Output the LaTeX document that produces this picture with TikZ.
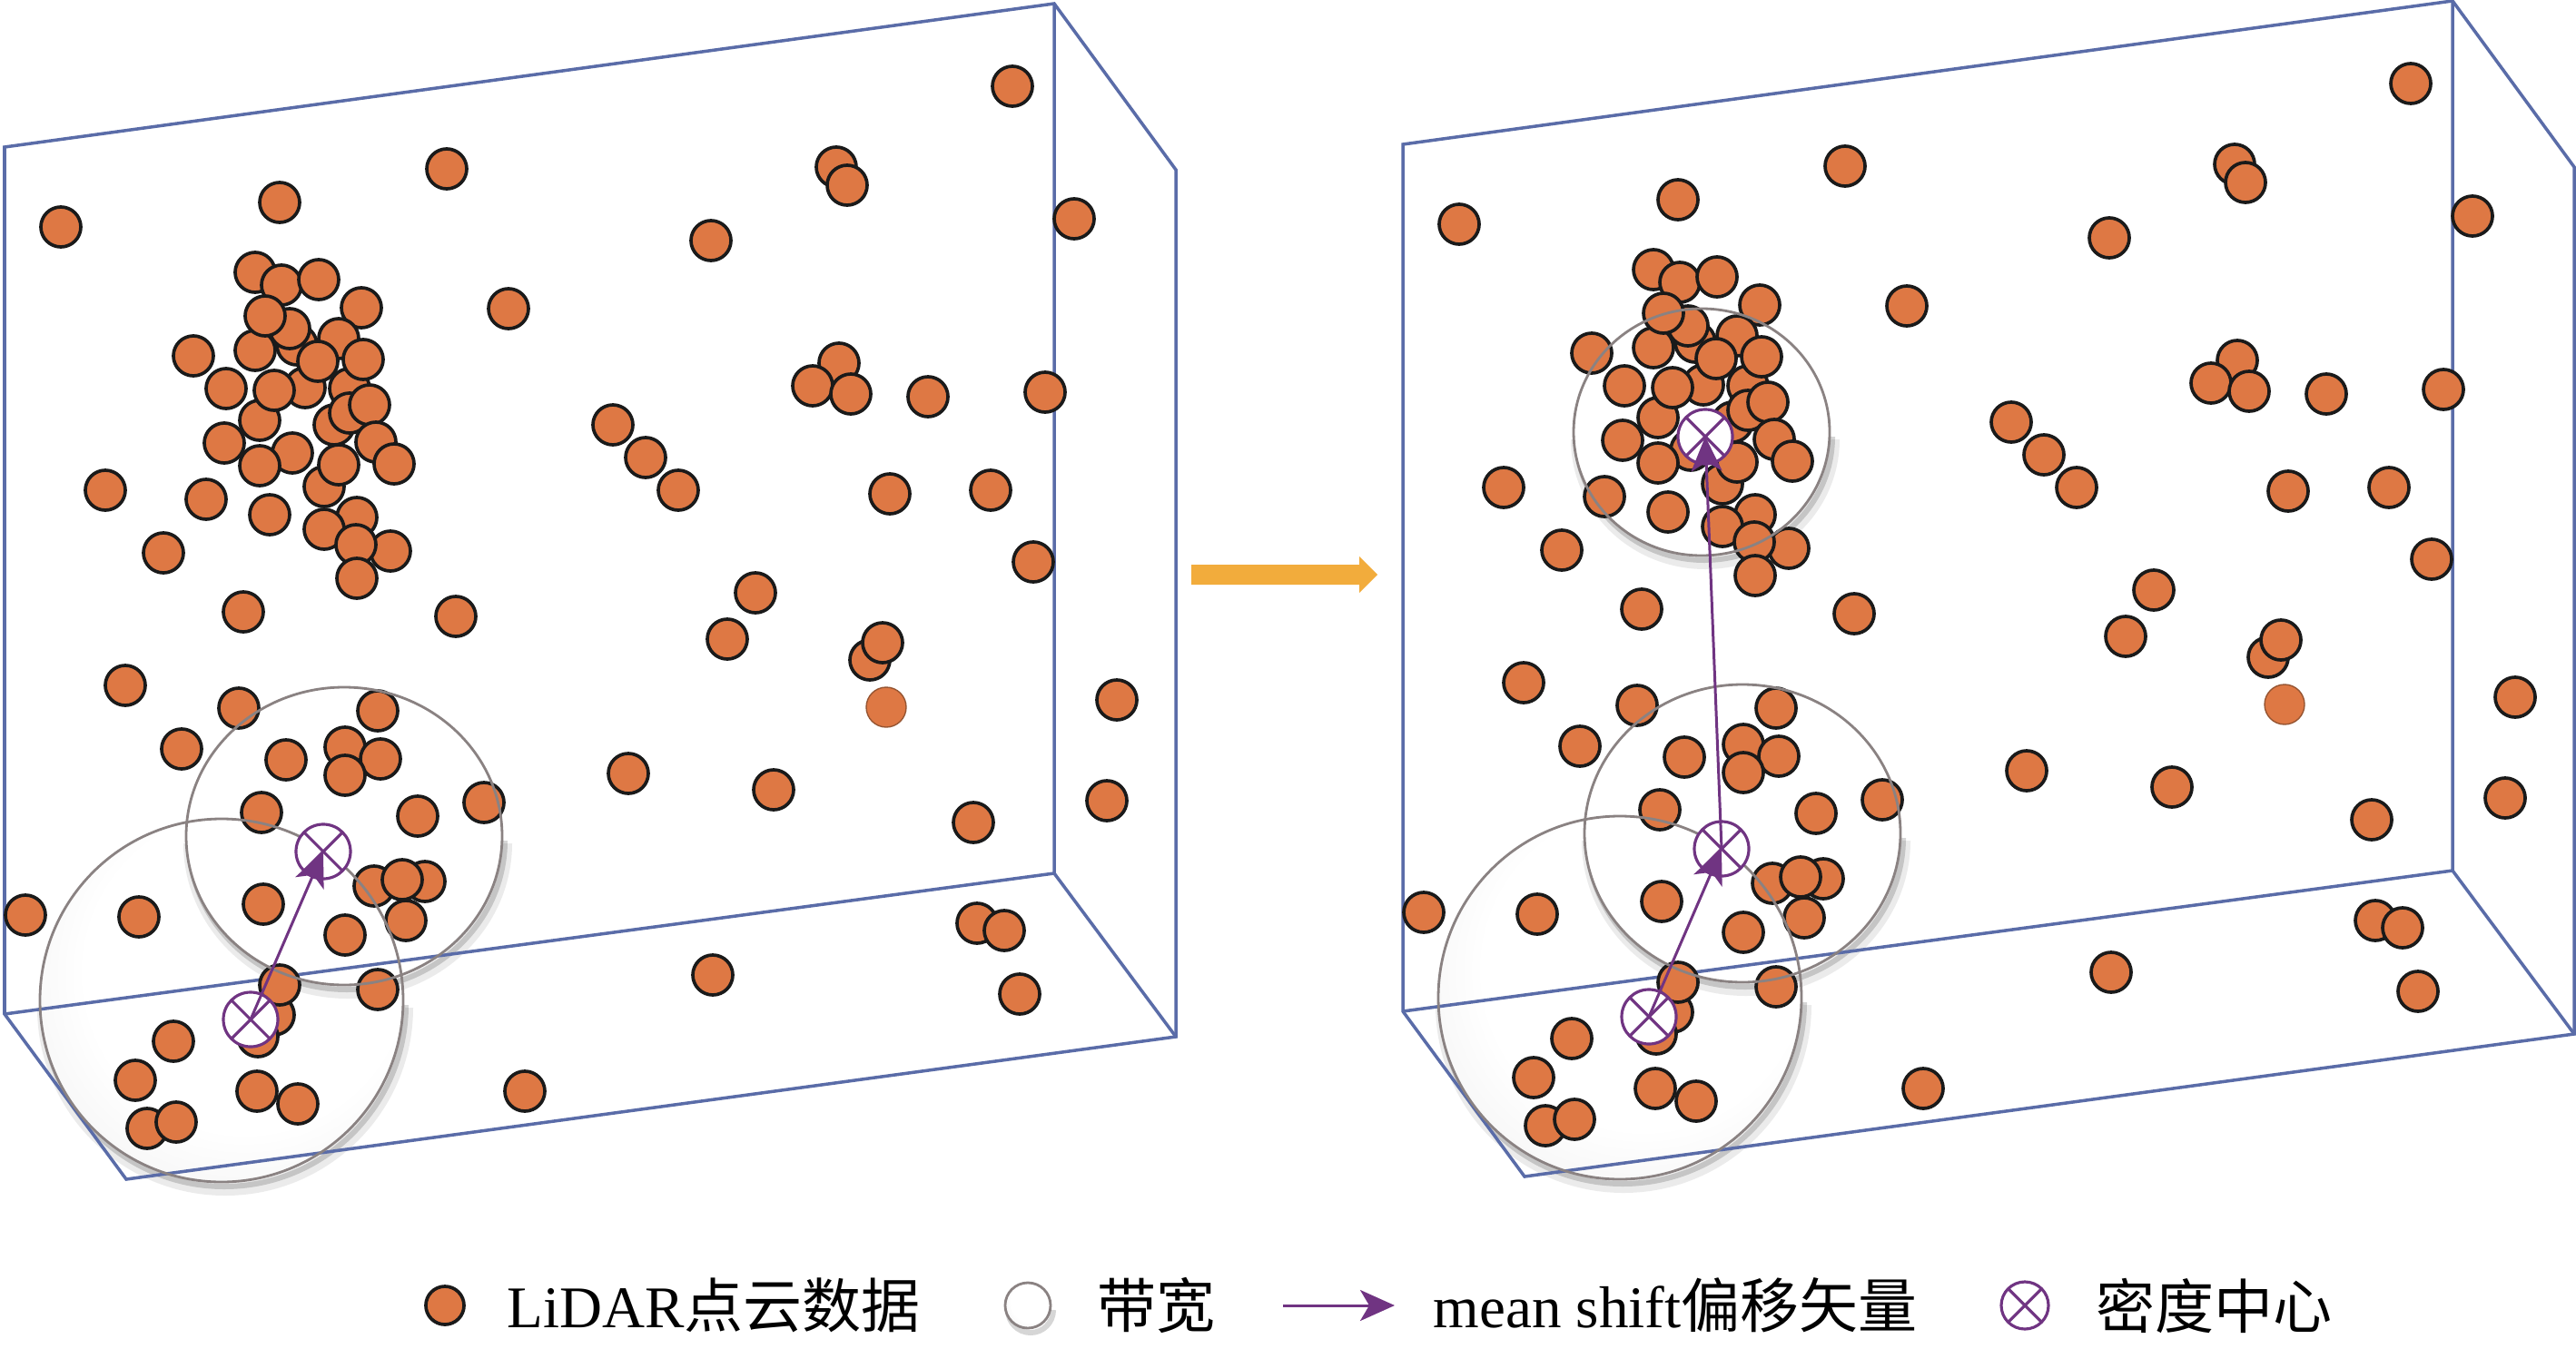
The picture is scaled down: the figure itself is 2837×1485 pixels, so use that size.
\documentclass[tikz,border=0pt]{standalone}
\usepackage{fontspec}
\setmainfont{Liberation Serif}
\newfontfamily\cjkfont{Noto Sans CJK SC}
\usepackage{tikz}
\usetikzlibrary{arrows.meta, positioning}
\definecolor{lidarorange}{RGB}{222,120,68}
\definecolor{dotedge}{RGB}{26,26,26}
\definecolor{boxblue}{RGB}{90,108,168}
\definecolor{shiftpurple}{RGB}{112,52,130}
\definecolor{steporange}{RGB}{242,172,60}
\definecolor{rimgray}{RGB}{138,130,130}
\definecolor{fadededge}{RGB}{150,85,50}

\pgfdeclareradialshading{glass}{\pgfpoint{5bp}{6bp}}{color(0bp)=(white); color(22bp)=(white); color(40bp)=(black!7); color(50bp)=(black!26); color(62bp)=(black!30)}
\pgfdeclareradialshading{glasslight}{\pgfpoint{4bp}{5bp}}{color(0bp)=(white); color(30bp)=(white); color(45bp)=(black!5); color(50bp)=(black!13); color(62bp)=(black!15)}

% scattered points, pixel coordinates (y downwards)
\newcommand\lidarpoints{67/250, 308/223, 492/186, 560/340, 116/540, 180/609, 268/674, 502/679,
  1115/95, 921/184, 933/204, 783/265, 1183/241,
  924/400, 895/425, 937/434, 1022/437, 1151/432,
  675/468, 711/504, 747/540, 980/544, 1091/540, 1138/619, 832/653,
  801/704, 958/727, 972/708, 1230/771, 692/852, 852/870, 1072/906, 1219/882,
  1076/1017, 1106/1025, 1123/1095, 785/1074, 578/1202,
  138/755, 263/780, 200/825, 416/783, 315/837, 380/823, 419/836, 380/854,
  288/895, 460/899, 533/884, 412/976, 468/971, 443/969, 447/1014, 290/996, 380/1030,
  28/1008, 153/1010, 302/1118, 284/1142, 308/1085, 416/1090, 191/1147, 149/1190,
  283/1202, 328/1216, 162/1243, 194/1236}
% dense cluster, back to front
\newcommand\clusterpoints{327/380, 336/427, 385/428, 281/300, 310/314, 351/308, 398/339,
  319/362, 281/386, 292/348, 373/373, 350/398, 400/396, 213/392, 249/428, 286/463,
  302/430, 368/468, 385/455, 407/446, 414/487, 322/499, 286/513, 247/488, 357/536,
  373/512, 434/511, 227/550, 297/567, 393/570, 357/583, 430/607, 392/600, 393/637}

% bandwidth bubble: #1,#2 centre, #3,#4 radii, #5 shading
\newcommand\bubblefill[5]{%
  \draw[black, opacity=0.08, line width=0.14cm] ({#1+4},{#2+8}) ++(0:#3 and #4)
    arc[start angle=0, end angle=180, x radius=#3, y radius=#4];
  \draw[black, opacity=0.16, line width=0.06cm] ({#1+3},{#2+5}) ++(0:#3 and #4)
    arc[start angle=0, end angle=180, x radius=#3, y radius=#4];
  \shade[shading=#5] (#1,#2) ellipse [x radius=#3, y radius=#4];}
\newcommand\bubblerim[4]{\draw[rim] (#1,#2) ellipse [x radius=#3, y radius=#4];}

\begin{document}
\begin{tikzpicture}[x=0.01cm, y=-0.01cm,
  lidar/.style={fill=lidarorange, draw=dotedge, line width=1.05pt},
  fadedpt/.style={fill=lidarorange, draw=fadededge, line width=0.4pt},
  boxline/.style={draw=boxblue, line width=1pt},
  rim/.style={draw=rimgray, line width=0.8pt},
  density/.style={circle, draw=shiftpurple, fill=white, line width=0.9pt,
    minimum size=0.6cm, inner sep=0pt,
    path picture={\draw[shiftpurple, line width=0.9pt]
      (path picture bounding box.north west) -- (path picture bounding box.south east)
      (path picture bounding box.north east) -- (path picture bounding box.south west);}},
  shiftarr/.style={-{Stealth[length=0.38cm, width=0.34cm, inset=0.1cm]}, shiftpurple, line width=0.85pt},
  legtext/.style={font=\fontsize{18.5}{22}\selectfont, inner sep=0pt, anchor=west}
]
\useasboundingbox (0,0) rectangle (2837,1485);

% ---- left box: first shift ----
\begin{scope}
  \bubblefill{244}{1102}{200}{200}{glass}
  \bubblefill{379}{921}{174}{164}{glasslight}
  \draw[boxline] (5,162) -- (1161,4) -- (1295,187) -- (1295,1142) -- (139,1299) -- (5,1117) -- cycle;
  \draw[boxline] (1161,4) -- (1161,962) -- (1295,1142);
  \draw[boxline] (5,1117) -- (1161,962);
  \foreach \px/\py in \lidarpoints {\draw[lidar] (\px,\py) circle (22);}
  \foreach \px/\py in \clusterpoints {\draw[lidar] (\px,\py) circle (22);}
  \draw[fadedpt] (976,779) circle (22);
  \bubblerim{244}{1102}{200}{200}
  \bubblerim{379}{921}{174}{164}
  \node[density] (cL1) at (276,1123) {};
  \node[density] (cL2) at (356,938) {};
  \draw[shiftarr] (cL1.center) -- (cL2.center);
\end{scope}

% step arrow
\fill[steporange] (1312,622) -- (1497,622) -- (1497,613) -- (1517,633) -- (1497,653) -- (1497,644) -- (1312,644) -- cycle;

% ---- right box: shift converges ----
\begin{scope}[shift={(1540,-3)}]
  \bubblefill{244}{1102}{200}{200}{glass}
  \bubblefill{379}{921}{174}{164}{glasslight}
  \bubblefill{334}{479}{141}{136}{glasslight}
  \draw[boxline] (5,162) -- (1161,4) -- (1295,187) -- (1295,1142) -- (139,1299) -- (5,1117) -- cycle;
  \draw[boxline] (1161,4) -- (1161,962) -- (1295,1142);
  \draw[boxline] (5,1117) -- (1161,962);
  \foreach \px/\py in \lidarpoints {\draw[lidar] (\px,\py) circle (22);}
  \foreach \px/\py in \clusterpoints {\draw[lidar] (\px,\py) circle (22);}
  \draw[fadedpt] (976,779) circle (22);
  \bubblerim{244}{1102}{200}{200}
  \bubblerim{379}{921}{174}{164}
  \bubblerim{334}{479}{141}{136}
  \node[density] (cR1) at (276,1123) {};
  \node[density] (cR2) at (356,938) {};
  \node[density] (cR3) at (338,484) {};
  \draw[shiftarr] (cR1.center) -- (cR2.center);
  \draw[shiftarr] (cR2.center) -- (cR3.center);
\end{scope}

% legend
\node[lidar, circle, minimum size=0.42cm, inner sep=0pt] (legdot) at (490,1438) {};
\node[legtext, right=0.45cm of legdot] (legdottxt) {LiDAR{\cjkfont 点云数据}};
\draw[black, opacity=0.16, line width=0.06cm] (1135,1443) ++(0:25 and 25) arc[start angle=0, end angle=180, radius=25];
\node[circle, shade, shading=glass, draw=rimgray, line width=0.8pt, minimum size=0.5cm, inner sep=0pt] (legbub) at (1132,1438) {};
\node[legtext, right=0.49cm of legbub] (legbubtxt) {\cjkfont 带宽};
\coordinate (legtail) at (1413,1438);
\coordinate (leghead) at (1536,1438);
\draw[shiftarr] (legtail) -- (leghead);
\node[legtext, right=0.42cm of leghead] (legarrtxt) {mean shift{\cjkfont 偏移矢量}};
\node[density, minimum size=0.52cm] (legcen) at (2230,1438) {};
\node[legtext, right=0.5cm of legcen] (legcentxt) {\cjkfont 密度中心};
\end{tikzpicture}
\end{document}
